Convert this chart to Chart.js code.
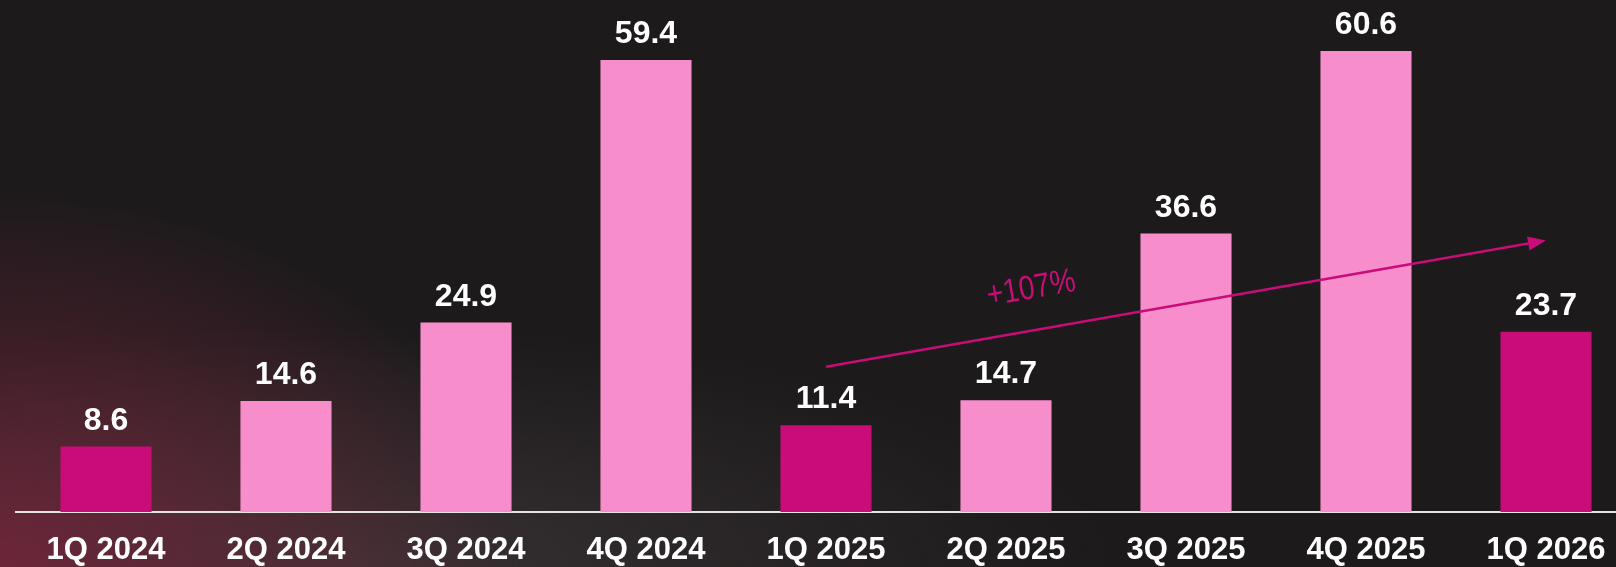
<!DOCTYPE html>
<html>
<head>
<meta charset="utf-8">
<script src="https://cdn.jsdelivr.net/npm/chart.js@4/dist/chart.umd.min.js"></script>
<style>
  html, body { margin: 0; padding: 0; }
  body {
    width: 1616px; height: 567px; overflow: hidden;
    background:
      radial-gradient(ellipse 520px 380px at 0% 100%, rgba(125,38,62,0.8), rgba(125,38,62,0) 100%),
      radial-gradient(ellipse 760px 240px at 22% 100%, rgba(78,68,70,0.55), rgba(78,68,70,0) 100%),
      #1c1a1b;
  }
  #wrap { position: absolute; left: 0; top: 0; width: 1640px; height: 567px; }
</style>
</head>
<body>
<div id="wrap"><canvas id="bars"></canvas></div>
<script>
/* quarterly bars, Q1 highlighted, trend arrow between Q1s */
const quarters = ['1Q 2024', '2Q 2024', '3Q 2024', '4Q 2024', '1Q 2025', '2Q 2025', '3Q 2025', '4Q 2025', '1Q 2026'];
const values   = [8.6, 14.6, 24.9, 59.4, 11.4, 14.7, 36.6, 60.6, 23.7];

const trendStart = [4, 19.1];     // [category index, value]
const trendEnd   = [8, 35.7];
const trendText  = '+107%';
const trendTextAt = [5.14, 29.3];

const DARK  = '#c80c78';
const PINK  = '#f78dcb';
const WHITE = '#ffffff';
const FONT  = "'Liberation Sans', Arial, sans-serif";

const valueLabels = {
  id: 'valueLabels',
  afterDatasetsDraw(chart) {
    const ctx = chart.ctx;
    const meta = chart.getDatasetMeta(0);
    ctx.save();
    ctx.fillStyle = WHITE;
    ctx.font = `bold 32px ${FONT}`;
    ctx.textAlign = 'center';
    ctx.textBaseline = 'alphabetic';
    meta.data.forEach((bar, i) => {
      ctx.fillText(values[i].toFixed(1), bar.x, bar.y - 17);
    });
    ctx.restore();
  },
};

const trendArrow = {
  id: 'trendArrow',
  afterDraw(chart) {
    const { ctx, scales: { x, y } } = chart;
    const x1 = x.getPixelForValue(trendStart[0]), y1 = y.getPixelForValue(trendStart[1]);
    const x2 = x.getPixelForValue(trendEnd[0]),   y2 = y.getPixelForValue(trendEnd[1]);
    const ang = Math.atan2(y2 - y1, x2 - x1);
    const head = 18, half = 7;
    ctx.save();
    ctx.strokeStyle = DARK;
    ctx.fillStyle = DARK;
    ctx.lineWidth = 2.5;
    ctx.beginPath();
    ctx.moveTo(x1, y1);
    ctx.lineTo(x2 - head * Math.cos(ang), y2 - head * Math.sin(ang));
    ctx.stroke();
    ctx.translate(x2, y2);
    ctx.rotate(ang);
    ctx.beginPath();
    ctx.moveTo(0, 0);
    ctx.lineTo(-head, -half);
    ctx.lineTo(-head, half);
    ctx.closePath();
    ctx.fill();
    ctx.restore();

    ctx.save();
    ctx.translate(x.getPixelForValue(trendTextAt[0]), y.getPixelForValue(trendTextAt[1]));
    ctx.rotate(-10 * Math.PI / 180);
    ctx.scale(0.84, 1);
    ctx.fillStyle = DARK;
    ctx.font = `34px ${FONT}`;
    ctx.textAlign = 'center';
    ctx.textBaseline = 'middle';
    ctx.fillText(trendText, 0, 0);
    ctx.restore();
  },
};

new Chart(document.getElementById('bars'), {
  type: 'bar',
  data: {
    labels: quarters,
    datasets: [{
      data: values,
      backgroundColor: quarters.map(q => q.startsWith('1Q') ? DARK : PINK),
      borderWidth: 0,
      categoryPercentage: 1,
      barPercentage: 0.506,
    }],
  },
  options: {
    responsive: true,
    maintainAspectRatio: false,
    animation: false,
    layout: { padding: { left: 16, right: 4, top: 0, bottom: 0 } },
    plugins: { legend: { display: false }, tooltip: { enabled: false } },
    scales: {
      x: {
        grid: { display: false },
        border: { color: '#e4e4e4', width: 2 },
        ticks: {
          color: WHITE,
          font: { family: FONT, size: 31, weight: 'bold' },
          padding: 12,
          autoSkip: false,
          maxRotation: 0,
        },
        afterFit: s => { s.height = 55; },
      },
      y: { display: false, min: 0, max: 67.3 },
    },
  },
  plugins: [valueLabels, trendArrow],
});
</script>
</body>
</html>
